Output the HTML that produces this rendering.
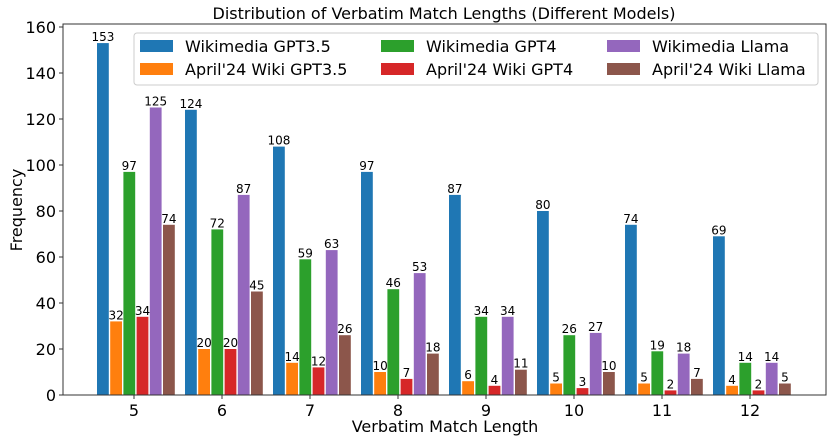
<!DOCTYPE html>
<html><head><meta charset="utf-8"><style>
body{margin:0;background:#fff;}
svg{display:block;font-family:"DejaVu Sans","Liberation Sans",sans-serif;}
</style></head><body>
<svg id="chart" width="830" height="443"></svg>
<script>
const categories=[5,6,7,8,9,10,11,12];
const seriesNames=["Wikimedia GPT3.5","April'24 Wiki GPT3.5","Wikimedia GPT4","April'24 Wiki GPT4","Wikimedia Llama","April'24 Wiki Llama"];
const colors=["#1f77b4","#ff7f0e","#2ca02c","#d62728","#9467bd","#8c564b"];
const wikiGpt35=[153,124,108,97,87,80,74,69];
const aprilGpt35=[32,20,14,10,6,5,5,4];
const wikiGpt4=[97,72,59,46,34,26,19,14];
const aprilGpt4=[34,20,12,7,4,3,2,2];
const wikiLlama=[125,87,63,53,34,27,18,14];
const aprilLlama=[74,45,26,18,11,10,7,5];
const series=[wikiGpt35,aprilGpt35,wikiGpt4,aprilGpt4,wikiLlama,aprilLlama];
const yTicks=[0,20,40,60,80,100,120,140,160];

const NS="http://www.w3.org/2000/svg";
const svg=document.getElementById('chart');
function mk(t,a,p){const e=document.createElementNS(NS,t);for(const k in a)e.setAttribute(k,a[k]);(p||svg).appendChild(e);return e;}
const L=63,R=826,T=24,B=395;
const yMax=161.3;
const y=v=>B-v/yMax*(B-T);
const x=i=>134+i*88;
const pitch=13.2,bw=11.8;

let t=mk('text',{x:444,y:19,'text-anchor':'middle','font-size':16});t.textContent="Distribution of Verbatim Match Lengths (Different Models)";



series.forEach((vals,s)=>{
  vals.forEach((v,i)=>{
    const bx=x(i)-37+s*pitch;
    const r=mk('rect',{x:bx,y:y(v),width:bw,height:B-y(v),fill:colors[s]});
    
    
    const lb=mk('text',{x:bx+bw/2,y:y(v)-2,'text-anchor':'middle','font-size':12});
    lb.textContent=v;
    
    
  });
});

mk('rect',{x:L,y:T,width:R-L,height:B-T,fill:'none',stroke:'#333','stroke-width':1});

yTicks.forEach(v=>{
  mk('line',{x1:L-4,x2:L,y1:y(v),y2:y(v),stroke:'#333'});
  const tt=mk('text',{x:L-7,y:y(v)+6,'text-anchor':'end','font-size':16});tt.textContent=v;
  
  
});
categories.forEach((c,i)=>{
  mk('line',{x1:x(i),x2:x(i),y1:B,y2:B+4,stroke:'#333'});
  const tt=mk('text',{x:x(i),y:B+21,'text-anchor':'middle','font-size':16});tt.textContent=c;
  
  
});
t=mk('text',{x:445,y:432,'text-anchor':'middle','font-size':16});t.textContent="Verbatim Match Length";


t=mk('text',{x:22,y:210,'text-anchor':'middle','font-size':16,transform:'rotate(-90 22 210)'});t.textContent="Frequency";



const lg=mk('g',{});


mk('rect',{x:134,y:33,width:684,height:52,rx:3,fill:'#fff',stroke:'#ccc','fill-opacity':0.85},lg);
const colX=[140,381,607],rowY=[40,63];
seriesNames.forEach((n,s)=>{
  const cx=colX[Math.floor(s/2)],ry=rowY[s%2];
  mk('rect',{x:cx,y:ry,width:33,height:12,fill:colors[s]},lg);
  const e=mk('text',{x:cx+45,y:ry+12,'font-size':16},lg);e.textContent=n;
  
  
});
</script>
</body></html>
